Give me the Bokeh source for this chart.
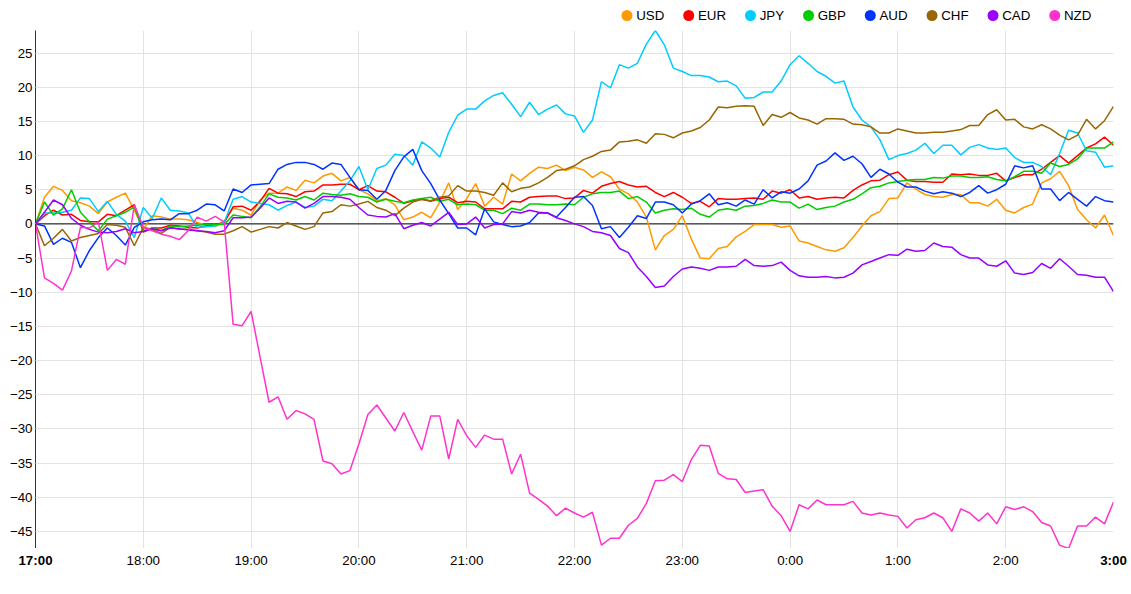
import numpy as np
from bokeh.plotting import figure
from bokeh.models import Range1d, FixedTicker, Span, Grid
from bokeh.layouts import column
from bokeh.embed import file_html
from bokeh.resources import INLINE
from bokeh.core.properties import value

# ---------------- data ----------------
step_minutes = 5
tick_labels = ["17:00", "18:00", "19:00", "20:00", "21:00", "22:00",
               "23:00", "0:00", "1:00", "2:00", "3:00"]
y_ticks = list(range(-45, 30, 5))

currencies = ["USD", "EUR", "JPY", "GBP", "AUD", "CHF", "CAD", "NZD"]
colors = ["#ff9900", "#ff0000", "#00ccff", "#00cc00", "#0033ff", "#996600", "#9900ff", "#ff33cc"]

usd = [0, 3.9, 5.5, 4.9, 3.4, 3.1, 2.6, 1.5, 3.2, 3.9, 4.5, 2.0,
       -0.8, 1.2, 1.0, 0.7, 0.7, 0.6, 0.2, -0.2, -0.4, 0.4,
       2.3, 2.0, 1.3, 3.5, 4.5, 4.5, 5.4, 4.9, 6.4, 6.0, 7.0, 7.4,
       6.3, 6.8, 5.0, 4.4, 3.4, 3.7, 2.8, 0.6, 1.0, 1.7, 0.9, 3.2, 6.0, 2.1, 3.7, 5.9, 2.6, 3.9, 2.9, 7.3, 6.3, 7.4, 8.3, 8.1, 8.6, 7.8, 8.3,
       7.9, 6.8, 7.6, 6.9, 5.1, 4.4, 3.2, 1.0, -3.8, -1.7, -0.8, 1.2, -2.2, -5.0, -5.1, -3.6, -3.3, -1.9, -1.1, -0.1, -0.1, -0.1, -0.5, -0.3, -2.5,
       -2.8, -3.3, -3.8, -4.0, -3.5, -2.0, -0.3, 1.2, 1.8, 3.7, 3.8, 6.0, 5.1, 4.3, 4.0, 3.9,
       4.3, 4.3, 3.1, 3.1, 2.6, 3.6, 2.0, 1.6, 2.4, 2.9, 6.0, 6.6, 7.7, 5.6, 2.1, 0.6, -0.6, 1.3, -1.7]

eur = [0, 1.2, 2.0, 1.3, 1.4, 0.5, 0.3, 0.3, 1.4, 1.2, 2.0, 2.8,
       -1.2, -0.6, -0.6, -0.2, -0.3, -0.5, -0.6, -0.3, -0.1, 0.2,
       2.5, 2.6, 2.0, 3.3, 5.2, 4.5, 4.4, 4.0, 4.7, 4.8, 5.7, 5.7,
       5.8, 5.8, 5.0, 5.6, 4.8, 4.7, 3.9, 3.0, 3.4, 3.6, 3.3, 3.7, 3.9, 3.1, 3.3, 3.2, 2.2, 2.2, 2.2, 3.3, 3.2, 3.9, 4.0, 4.1, 4.1, 3.7, 3.8,
       4.9, 4.5, 5.5, 5.9, 6.2, 5.7, 5.4, 5.5, 4.6, 4.0, 4.6, 3.9, 3.0, 3.3, 2.5, 3.7, 3.6, 3.6, 3.7, 3.8, 3.6, 4.8, 4.5, 5.0, 3.8,
       4.0, 3.6, 3.8, 3.9, 3.8, 4.9, 5.7, 6.3, 6.4, 7.2, 7.6, 6.4, 6.2, 6.2, 6.1, 6.1,
       7.3, 7.2, 7.3, 7.1, 7.1, 7.4, 6.3, 6.8, 7.2, 7.2, 8.0, 9.0, 10.0, 8.9, 10.0, 11.1, 11.7, 12.7, 11.5]

jpy = [0, 1.6, 1.6, 1.7, 2.0, 3.8, 3.7, 1.8, 3.3, 1.4, 0.4, -2.0,
       2.4, 0.8, 3.8, 2.0, 1.9, 1.6, -0.5, -0.4, -0.3, 0.2,
       3.6, 4.0, 3.2, 3.0, 2.8, 2.0, 2.7, 3.2, 2.4, 2.6, 3.6, 3.4,
       4.8, 6.3, 8.4, 5.0, 8.1, 8.6, 10.2, 10.0, 8.6, 12.0, 11.1, 9.8, 13.4, 15.9, 16.8, 16.8, 18.0, 18.8, 19.2, 17.5, 15.7, 17.8, 16.0, 16.8, 17.4, 16.1, 15.8,
       13.4, 15.2, 20.8, 19.9, 23.3, 22.8, 23.5, 26.3, 28.3, 26.2, 22.8, 22.3, 21.7, 21.7, 21.5, 20.8, 20.9, 20.2, 18.4, 18.5, 19.3, 19.3, 20.9, 23.3, 24.6,
       23.5, 22.3, 21.6, 20.6, 20.9, 17.1, 15.2, 14.2, 12.3, 9.4, 10.0, 10.3, 10.8, 11.8, 10.3, 11.5,
       11.5, 10.1, 11.2, 11.6, 11.1, 10.9, 11.1, 9.7, 9.0, 9.0, 8.4, 7.2, 10.3, 13.7, 13.3, 10.7, 10.5, 8.3, 8.5]

gbp = [0, 3.2, 1.3, 2.2, 5.0, 1.7, 0.3, -1.0, 0.7, 1.2, 1.7, 2.5,
       -1.0, -0.6, -1.0, -0.3, -0.4, -0.3, -0.2, -0.1, -0.1, -0.1,
       1.3, 1.1, 0.9, 2.5, 4.4, 3.9, 3.8, 3.5, 4.0, 3.5, 4.5, 4.3,
       4.2, 4.4, 4.0, 3.9, 3.2, 3.6, 3.3, 3.1, 3.5, 3.7, 3.9, 3.3, 3.6, 2.8, 2.9, 2.8, 2.0, 2.0, 1.5, 2.3, 2.0, 2.9, 2.9, 2.8, 2.8, 2.9, 2.8,
       3.9, 4.4, 4.6, 4.6, 4.8, 3.7, 4.0, 3.2, 1.6, 2.0, 2.2, 2.1, 2.3, 1.4, 1.0, 2.0, 2.2, 2.0, 2.6, 2.7, 3.0, 3.5, 3.2, 3.2, 2.3,
       2.9, 2.1, 2.4, 2.6, 3.2, 3.6, 4.4, 5.3, 5.5, 6.0, 6.2, 6.4, 6.5, 6.5, 6.8, 6.7,
       7.0, 7.0, 6.8, 6.8, 6.9, 6.5, 6.3, 6.9, 7.7, 7.7, 7.4, 8.9, 8.4, 8.7, 9.5, 11.1, 11.1, 11.1, 12.0]

aud = [0, -0.3, -3.0, -2.1, -2.7, -6.4, -3.9, -2.0, -0.6, -1.7, -3.1, -0.5,
       0.3, 0.6, 0.7, 0.6, 1.5, 1.5, 2.0, 2.9, 2.8, 1.9,
       5.1, 4.6, 5.7, 5.8, 5.9, 8.0, 8.7, 9.0, 9.0, 8.7, 8.0, 8.9,
       8.7, 6.8, 5.0, 4.9, 3.6, 4.9, 7.8, 9.8, 10.9, 7.8, 5.9, 3.5, 1.5, -0.6, -0.6, -1.6, 2.2, 0.3, -0.1, -0.4, -0.3, 0.2, 1.6, 1.6, 1.0, 2.4, 3.9,
       4.0, 2.7, -0.7, -0.4, -2.0, -0.5, 1.2, 0.8, 3.2, 3.2, 2.8, 1.6, 2.9, 3.4, 4.4, 2.8, 3.1, 2.6, 3.5, 2.9, 5.0, 3.8, 4.7, 4.5, 5.1,
       6.3, 8.6, 9.2, 10.4, 9.3, 9.9, 8.8, 6.8, 8.0, 7.3, 6.1, 5.4, 5.4, 4.8, 4.4, 4.7,
       4.5, 4.0, 4.6, 5.6, 4.5, 5.0, 5.8, 8.5, 8.2, 8.5, 5.1, 5.1, 3.4, 4.6, 3.6, 2.6, 4.0, 3.4, 3.2]

chf = [0, -3.2, -2.1, -0.8, -2.5, -2.0, -1.7, -1.4, -0.1, -0.2, -0.5, -3.2,
       -0.5, -0.8, -1.4, -0.5, -0.8, -0.8, -1.0, -1.2, -1.5, -1.5,
       -1.0, -0.4, -1.2, -0.8, -0.4, -0.6, 0.2, -0.3, -0.8, -0.4, 1.6, 1.8,
       2.8, 2.6, 2.9, 3.3, 2.4, 2.0, 1.2, 2.3, 3.2, 3.6, 3.4, 3.9, 4.1, 5.6, 4.8, 4.8, 4.6, 4.2, 6.0, 4.7, 5.2, 5.4, 6.0, 6.8, 7.8, 8.0, 8.5,
       9.4, 9.9, 10.6, 10.8, 12.0, 12.1, 12.3, 11.8, 13.2, 13.1, 12.6, 13.3, 13.6, 14.1, 15.2, 17.1, 17.0, 17.2, 17.3, 17.2, 14.4, 16.0, 15.6, 16.3, 15.5,
       15.2, 14.6, 15.4, 15.4, 15.3, 14.6, 14.5, 14.2, 13.3, 13.3, 13.9, 13.6, 13.3, 13.3, 13.4, 13.4,
       13.6, 13.8, 14.4, 14.4, 16.0, 16.7, 15.2, 15.3, 14.2, 13.9, 14.5, 13.9, 13.0, 12.3, 13.0, 15.3, 13.9, 15.1, 17.2]

cad = [0, 1.7, 3.5, 2.8, 0.8, -0.2, -0.8, -1.2, -1.3, -1.1, -0.7, -1.3,
       -1.1, -0.7, -1.0, -0.6, -0.7, -0.9, -1.0, -1.1, -1.3, -1.0,
       0.9, 0.9, 1.0, 2.3, 3.8, 3.0, 3.3, 3.2, 2.3, 3.0, 4.0, 4.0,
       3.9, 3.6, 2.4, 1.3, 1.1, 1.0, 1.5, -0.7, -0.2, 0.2, -0.3, 0.7, 1.7, -0.1, 0.0, 1.0, -0.6, -0.1, 0.0, 1.8, 1.6, 2.0, 1.7, 1.6, 0.9, 0.5, 0.0,
       -0.4, -1.1, -1.3, -1.7, -3.6, -4.2, -6.3, -7.7, -9.3, -9.1, -7.7, -6.6, -6.3, -6.5, -6.8, -6.3, -6.3, -6.2, -5.2, -6.1, -6.2, -6.1, -5.6, -6.8, -7.6,
       -7.8, -7.8, -7.7, -7.9, -7.8, -7.2, -6.0, -5.5, -5.0, -4.5, -4.6, -3.7, -4.0, -3.9, -2.8, -3.3,
       -3.4, -4.5, -5.0, -5.0, -6.0, -6.2, -5.4, -7.2, -7.4, -7.1, -5.8, -6.5, -5.1, -6.2, -7.4, -7.5, -7.8, -7.8, -9.9]

nzd = [0, -7.9, -8.7, -9.7, -6.9, -0.5, -0.6, 0.3, -6.8, -5.2, -5.9, 2.8,
       -0.5, -1.0, -1.5, -1.8, -2.3, -1.0, 1.0, 0.4, 1.1, 0.3,
       -14.7, -14.9, -12.8, -19.5, -26.1, -25.3, -28.6, -27.3, -27.8, -28.6,
       -34.7, -35.1, -36.6, -36.1, -32.2, -27.9, -26.5, -28.4, -30.3, -27.6,
       -30.4, -33.1, -28.1, -28.1, -34.4, -28.6, -31.0, -32.7, -30.9, -31.5,
       -31.5, -36.6, -33.7, -39.4, -40.3, -41.3, -42.7, -41.6, -42.3,
       -42.9, -42.2, -47.0, -46.0, -46.0, -44.1, -43.1, -40.9, -37.6, -37.5,
       -36.7, -37.7, -34.5, -32.4, -32.5, -36.5, -37.3, -37.4, -39.3, -39.1,
       -38.9, -41.3, -42.7, -45.0, -41.1, -41.7, -40.4, -41.1, -41.1, -41.1,
       -40.6, -42.3, -42.6, -42.3, -42.6, -42.8, -44.5, -43.3, -43.0, -42.3,
       -43.0, -45.0, -41.7, -42.3, -43.5, -42.3, -43.9, -41.4, -41.8, -41.4,
       -42.1, -43.7, -44.2, -47.0, -47.5, -44.2, -44.2, -42.9, -43.9, -40.7]

series = [usd, eur, jpy, gbp, aud, chf, cad, nzd]

# ---------------- layout constants ----------------
FONT = "Liberation Sans"
FS = "13.33px"
W = 1131
LEFT, RIGHT = 35, 18
FRAME_H = 518
LEG_H = 30
BOT_H = 46
GRID = "#e3e3e3"

n = len(usd)
x = np.arange(n) * step_minutes
tick_pos = [i * 60 for i in range(len(tick_labels))]
x0, x1 = 0, x[-1]

all_vals = np.concatenate([np.asarray(s, dtype=float) for s in series])
ymin, ymax = float(all_vals.min()), float(all_vals.max())

# ---------------- main plot ----------------
p = figure(width=W, height=FRAME_H, output_backend="svg", toolbar_location=None,
           x_range=Range1d(x0, x1), y_range=Range1d(ymin, ymax),
           x_axis_location=None, min_border_left=LEFT, min_border_right=RIGHT,
           min_border_top=0, min_border_bottom=0, frame_align=False)
p.outline_line_color = None

xgrids = list(p.xgrid)
if not xgrids:
    g = Grid(dimension=0)
    p.add_layout(g, "center")
    xgrids = [g]
for g in xgrids:
    g.ticker = FixedTicker(ticks=tick_pos)
    g.grid_line_color = GRID
p.ygrid.ticker = FixedTicker(ticks=y_ticks)
p.ygrid.grid_line_color = GRID

ax = p.yaxis[0]
ax.ticker = FixedTicker(ticks=y_ticks)
ax.axis_line_color = "#333333"
ax.major_tick_out = 2
ax.major_tick_in = 0
ax.major_tick_line_color = GRID
ax.minor_tick_line_color = None
ax.major_label_standoff = 1
ax.major_label_text_font = FONT
ax.major_label_text_font_size = FS
ax.major_label_text_color = "#000000"

p.add_layout(Span(location=0, dimension="width", line_color="#000000",
                  line_width=1, level="underlay"))

for name, col, vals in zip(currencies, colors, series):
    p.line(x, vals, line_color=col, line_width=1.5)

# ---------------- legend strip ----------------
leg = figure(width=W, height=LEG_H, output_backend="svg", toolbar_location=None,
             x_range=Range1d(0, W), y_range=Range1d(0, LEG_H),
             x_axis_location=None, y_axis_location=None, min_border=0, frame_align=False)
leg.outline_line_color = None
leg.grid.visible = False

char_em = {"A": .667, "B": .667, "C": .722, "D": .722, "E": .667, "F": .611,
           "G": .778, "H": .722, "J": .5, "N": .722, "P": .667, "R": .722,
           "S": .667, "U": .722, "Y": .667, "Z": .611}
fs_px = 13.33
cx, lx = [], []
c = 626.5
for name in currencies:
    cx.append(c)
    lx.append(c + 9.2)
    c = c + 9.2 + sum(char_em[ch] for ch in name) * fs_px + 24.4
leg.scatter(cx, [LEG_H - 15.0] * len(cx), size=11, color=colors, line_color=None)
leg.text(lx, [LEG_H - 14.5] * len(lx), text=currencies, text_align="left", text_baseline="middle",
         text_font=value(FONT), text_font_size=FS, text_color="#000000")

# ---------------- bottom tick-label strip ----------------
frame_w = W - LEFT - RIGHT
ppu = frame_w / (x1 - x0)
bot = figure(width=W, height=BOT_H, output_backend="svg", toolbar_location=None,
             x_range=Range1d(x0 - LEFT / ppu, x1 + RIGHT / ppu), y_range=Range1d(0, BOT_H),
             x_axis_location=None, y_axis_location=None, min_border=0, frame_align=False)
bot.outline_line_color = None
bot.grid.visible = False
last = len(tick_labels) - 1
reg_x = [tick_pos[i] for i in range(1, last)]
reg_t = [tick_labels[i] for i in range(1, last)]
bold_x = [tick_pos[0], tick_pos[last]]
bold_t = [tick_labels[0], tick_labels[last]]
ty = BOT_H - 12.3
bot.text(reg_x, [ty] * len(reg_x), text=reg_t, text_align="center", text_baseline="middle",
         text_font=value(FONT), text_font_size=FS, text_color="#000000")
bot.text(bold_x, [ty] * len(bold_x), text=bold_t, text_align="center", text_baseline="middle",
         text_font=value(FONT), text_font_size=FS, text_font_style="bold", text_color="#000000")

layout = column(leg, p, bot, spacing=0)
open("out.html", "w").write(file_html(layout, INLINE))
